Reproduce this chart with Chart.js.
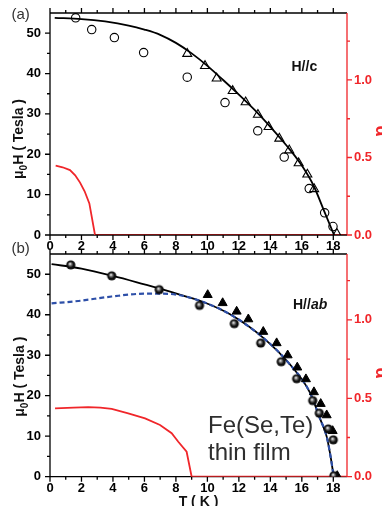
<!DOCTYPE html>
<html><head><meta charset="utf-8">
<script src="https://cdn.jsdelivr.net/npm/chart.js@4/dist/chart.umd.min.js"></script>
<style>
html,body{margin:0;padding:0;background:#fff;overflow:hidden;width:382px;height:506px;}
#wrap{position:relative;width:382px;height:506px;overflow:hidden;background:#fff;}
canvas{position:absolute;left:0;}
</style></head><body>
<div id="wrap">
<canvas id="ca" width="395" height="262" style="top:0;width:395px;height:262px"></canvas>
<canvas id="cb" width="395" height="266" style="top:240px;width:395px;height:266px"></canvas>
</div>
<script>
// ---------- tick labels ----------
const xTicks=[0,2,4,6,8,10,12,14,16,18];
const xMinor=[1,3,5,7,9,11,13,15,17];
const hTicks=[0,10,20,30,40,50];
const hMinor=[5,15,25,35,45];
const aTicks=[0,0.5,1.0];
const aMinor=[0.25,0.75,1.25];
const X_MAX=18.87;

// ---------- panel (a): H//c ----------
const aCircT=[1.63,2.65,4.09,5.95,8.72,11.12,13.2,14.88,16.47,17.45,17.98];
const aCircH=[53.8,50.9,48.9,45.2,39.1,32.8,25.8,19.3,11.5,5.5,2.1];
const aTriT=[8.72,9.85,10.59,11.61,12.43,13.21,13.89,14.57,15.2,15.8,16.35,16.78,18.23];
const aTriH=[44.9,41.9,38.8,35.7,32.9,29.8,26.8,23.9,21.0,17.8,15.0,11.4,0.3];
const aFitT=[0.3,2,3.5,5,6,7,8,9,10,11,12,13,14,15,16,16.75,17.4,18.05];
const aFitH=[53.8,53.5,52.9,51.9,50.9,49.6,47.6,45.0,41.9,38.4,34.8,31.0,26.8,22.3,17.2,12.2,6.1,0];
const aRedT=[0.36,0.8,1.27,1.6,1.91,2.2,2.5,2.86,18.87];
const aRedA=[0.447,0.437,0.419,0.385,0.338,0.282,0.204,0,0];

// ---------- panel (b): H//ab ----------
const bSphT=[1.32,3.92,6.94,9.5,11.71,13.39,14.69,15.67,16.69,17.11,17.68,18.0,18.04];
const bSphH=[52.3,49.6,46.2,42.3,37.8,33.0,28.4,24.2,18.8,15.7,11.8,9.1,0.25];
const bTriT=[10.02,10.97,11.86,12.6,13.55,14.4,15.1,15.71,16.26,16.77,17.2,17.58,17.96,18.25];
const bTriH=[44.9,42.9,40.8,38.9,35.8,33.0,30.0,27.0,24.1,20.9,18.0,15.2,11.3,0.2];
const bFitT=[0.1,2,4,6,7.2,8.4,9.7,11.44,13.55,15.25,16.5,17.15,17.58,17.79,17.96,18.02];
const bFitH=[52.5,51.4,49.6,47.5,46.2,44.8,43.2,40.1,34.3,27.7,20.9,14.4,9.9,5.8,1.7,0];
const bDashT=[0.1,1.8,3.92,6.04,6.9,8.15,9.7,11.44,13.55,15.25,16.5,17.15,17.58,17.79,17.96,18.02];
const bDashH=[42.8,43.4,44.5,45.2,45.2,44.9,43.2,40.1,34.3,27.7,20.9,14.4,9.9,5.8,1.7,0];
const bRedT=[0.32,1.5,2.43,3.2,3.92,4.97,6.04,6.99,7.73,8.15,8.68,9.0,18.87];
const bRedA=[0.436,0.441,0.443,0.440,0.432,0.404,0.372,0.33,0.277,0.223,0.159,0,0];

const RED='#f0262a';
const BLUE='#2d4fa8';
const FONT='"Liberation Sans", Arial, Helvetica, sans-serif';
function pts(T,V){return T.map((t,i)=>({x:t,y:V[i]}));}

function sphere(r){
  const s=Math.ceil(r*2+2);
  const c=document.createElement('canvas'); c.width=s; c.height=s;
  const g=c.getContext('2d'); const cx=s/2, cy=s/2;
  const gr=g.createRadialGradient(cx-r*0.2,cy-r*0.25,0.2,cx,cy,r);
  gr.addColorStop(0,'#ffffff'); gr.addColorStop(0.25,'#8a8a8a'); gr.addColorStop(0.6,'#151515'); gr.addColorStop(1,'#000');
  g.fillStyle=gr; g.beginPath(); g.arc(cx,cy,r,0,Math.PI*2); g.fill();
  return c;
}
const SPH=sphere(4.6);

function scalesFor(aMax){
  const tf={family:FONT,size:13,weight:'bold'};
  return {
    x:{type:'linear',position:'bottom',min:0,max:X_MAX,
      afterBuildTicks:s=>{s.ticks=xTicks.map(v=>({value:v}));},
      afterFit:s=>{s.height=17;},
      ticks:{font:tf,color:'#000',padding:0,maxRotation:0,autoSkip:false},
      grid:{display:false,drawTicks:true,tickLength:4},border:{display:false}},
    y:{type:'linear',position:'left',min:0,max:55,
      afterBuildTicks:s=>{s.ticks=hTicks.map(v=>({value:v}));},
      afterFit:s=>{s.width=50;},
      ticks:{font:tf,color:'#000',padding:4},
      grid:{display:false,drawTicks:true,tickLength:5},border:{display:false}},
    y2:{type:'linear',position:'right',min:0,max:aMax,
      afterBuildTicks:s=>{s.ticks=aTicks.map(v=>({value:v}));},
      afterFit:s=>{s.width=48;},
      ticks:{font:tf,color:RED,padding:2,callback:v=>Number(v).toFixed(1)},
      grid:{display:false,drawTicks:true,tickLength:5},border:{display:false}}
  };
}

function framePlugin(id,texts){
  return {
    id:id,
    beforeDatasetsDraw(chart){
      const {ctx,chartArea:ca,scales}=chart;
      const x=scales.x,y=scales.y,y2=scales.y2;
      ctx.save();
      ctx.lineWidth=1.3; ctx.strokeStyle='#000'; ctx.lineCap='butt';
      ctx.beginPath();
      ctx.moveTo(ca.left,ca.top); ctx.lineTo(ca.right,ca.top);
      ctx.moveTo(ca.left,ca.top); ctx.lineTo(ca.left,ca.bottom); ctx.lineTo(ca.right,ca.bottom);
      xTicks.forEach(v=>{const p=x.getPixelForValue(v);ctx.moveTo(p,ca.bottom);ctx.lineTo(p,ca.bottom+5);ctx.moveTo(p,ca.top);ctx.lineTo(p,ca.top-5);});
      xMinor.forEach(v=>{const p=x.getPixelForValue(v);ctx.moveTo(p,ca.bottom);ctx.lineTo(p,ca.bottom+3);ctx.moveTo(p,ca.top);ctx.lineTo(p,ca.top-3);});
      hTicks.forEach(v=>{const p=y.getPixelForValue(v);ctx.moveTo(ca.left,p);ctx.lineTo(ca.left-5,p);});
      hMinor.forEach(v=>{const p=y.getPixelForValue(v);ctx.moveTo(ca.left,p);ctx.lineTo(ca.left-3,p);});
      ctx.stroke();
      ctx.strokeStyle=RED; ctx.beginPath();
      ctx.moveTo(ca.right,ca.top); ctx.lineTo(ca.right,ca.bottom);
      aTicks.forEach(v=>{const p=y2.getPixelForValue(v);ctx.moveTo(ca.right,p);ctx.lineTo(ca.right+5,p);});
      aMinor.forEach(v=>{const p=y2.getPixelForValue(v);ctx.moveTo(ca.right,p);ctx.lineTo(ca.right+3,p);});
      ctx.stroke();
      ctx.restore();
    },
    afterDraw(chart){ texts(chart.ctx, chart); }
  };
}

function yTitle(ctx,bx,cy){
  ctx.save();
  ctx.translate(bx,cy); ctx.rotate(-Math.PI/2);
  ctx.fillStyle='#111'; ctx.textBaseline='alphabetic'; ctx.textAlign='left';
  const f1='bold 14px '+FONT, f2='bold 10px '+FONT;
  ctx.font=f1; const w1=ctx.measureText('\u03bc').width; const w3=ctx.measureText('H ( Tesla )').width;
  ctx.font=f2; const w2=ctx.measureText('0').width;
  let s=-(w1+w2+w3)/2;
  ctx.font=f1; ctx.fillText('\u03bc',s,0);
  ctx.font=f2; ctx.fillText('0',s+w1,3.5);
  ctx.font=f1; ctx.fillText('H ( Tesla )',s+w1+w2,0);
  ctx.restore();
}
function alphaTitle(ctx,bx,cy){
  ctx.save();
  ctx.translate(bx,cy); ctx.rotate(Math.PI/2);
  ctx.fillStyle=RED; ctx.font='bold 18px '+FONT; ctx.textAlign='center'; ctx.textBaseline='alphabetic';
  ctx.fillText('\u03b1',0,0);
  ctx.restore();
}

const common={responsive:false,animation:false,devicePixelRatio:1,events:[],
  plugins:{legend:{display:false},tooltip:{enabled:false}}};

// ---------- chart (a) ----------
new Chart(document.getElementById('ca'),{
  type:'scatter',
  data:{datasets:[
    {data:pts(aCircT,aCircH),pointStyle:'circle',pointRadius:4.2,borderColor:'#000',backgroundColor:'rgba(0,0,0,0)',pointBorderWidth:1.1,order:0},
    {data:pts(aTriT,aTriH),pointStyle:'triangle',pointRadius:5.2,borderColor:'#000',backgroundColor:'rgba(0,0,0,0)',pointBorderWidth:1.1,order:0},
    {data:pts(aFitT,aFitH),showLine:true,pointRadius:0,borderColor:'#000',borderWidth:1.8,cubicInterpolationMode:'monotone',order:2},
    {data:pts(aRedT,aRedA),yAxisID:'y2',showLine:true,pointRadius:0,borderColor:RED,borderWidth:1.8,tension:0,order:3,
      segment:{borderColor:c=>(c.p0.parsed.y===0&&c.p1.parsed.y===0)?'#7a1212':undefined}}
  ]},
  options:Object.assign({},common,{
    layout:{padding:{top:13,bottom:10,left:0,right:0}},
    scales:scalesFor(1.432)
  }),
  plugins:[framePlugin('frameA',(ctx)=>{
    ctx.save();
    ctx.fillStyle='#333'; ctx.font='15px '+FONT; ctx.textBaseline='middle'; ctx.textAlign='left';
    ctx.fillText('(a)',11.5,14.5);
    ctx.fillStyle='#111'; ctx.font='bold 14px '+FONT;
    ctx.fillText('H//c',291.5,67);
    ctx.restore();
    yTitle(ctx,23,139);
    alphaTitle(ctx,376,131);
  })]
});

// ---------- chart (b) ----------
new Chart(document.getElementById('cb'),{
  type:'scatter',
  data:{datasets:[
    {data:pts(bSphT,bSphH),pointStyle:SPH,pointRadius:4.6,order:0},
    {data:pts(bTriT,bTriH),pointStyle:'triangle',pointRadius:5.2,borderColor:'#000',backgroundColor:'#000',pointBorderWidth:1,order:0},
    {data:pts(bDashT,bDashH),showLine:true,pointRadius:0,borderColor:BLUE,borderWidth:2.2,borderDash:[5,3],cubicInterpolationMode:'monotone',order:1},
    {data:pts(bFitT,bFitH),showLine:true,pointRadius:0,borderColor:'#000',borderWidth:1.8,cubicInterpolationMode:'monotone',order:2},
    {data:pts(bRedT,bRedA),yAxisID:'y2',showLine:true,pointRadius:0,borderColor:RED,borderWidth:1.8,tension:0,order:3}
  ]},
  options:Object.assign({},common,{
    layout:{padding:{top:14,bottom:12.3,left:0,right:0}},
    scales:scalesFor(1.42)
  }),
  plugins:[framePlugin('frameB',(ctx)=>{
    ctx.save();
    ctx.fillStyle='#333'; ctx.font='15px '+FONT; ctx.textBaseline='middle'; ctx.textAlign='left';
    ctx.fillText('(b)',11.5,9);
    ctx.fillStyle='#111'; ctx.font='bold 14px '+FONT;
    ctx.fillText('H//',293,65);
    const w=ctx.measureText('H//').width;
    ctx.font='italic bold 14px '+FONT; ctx.fillText('ab',293+w,65);
    ctx.fillStyle='#2e2e2e'; ctx.font='24px '+FONT;
    ctx.fillText('Fe(Se,Te)',208,186.7);
    ctx.fillText('thin film',208,213.3);
    ctx.fillStyle='#111'; ctx.font='bold 14px '+FONT; ctx.textAlign='center'; ctx.textBaseline='alphabetic';
    ctx.fillText('T ( K )',198.5,265.5);
    ctx.restore();
    yTitle(ctx,24,136.7);
    alphaTitle(ctx,376,133);
  })]
});
</script>
</body></html>
